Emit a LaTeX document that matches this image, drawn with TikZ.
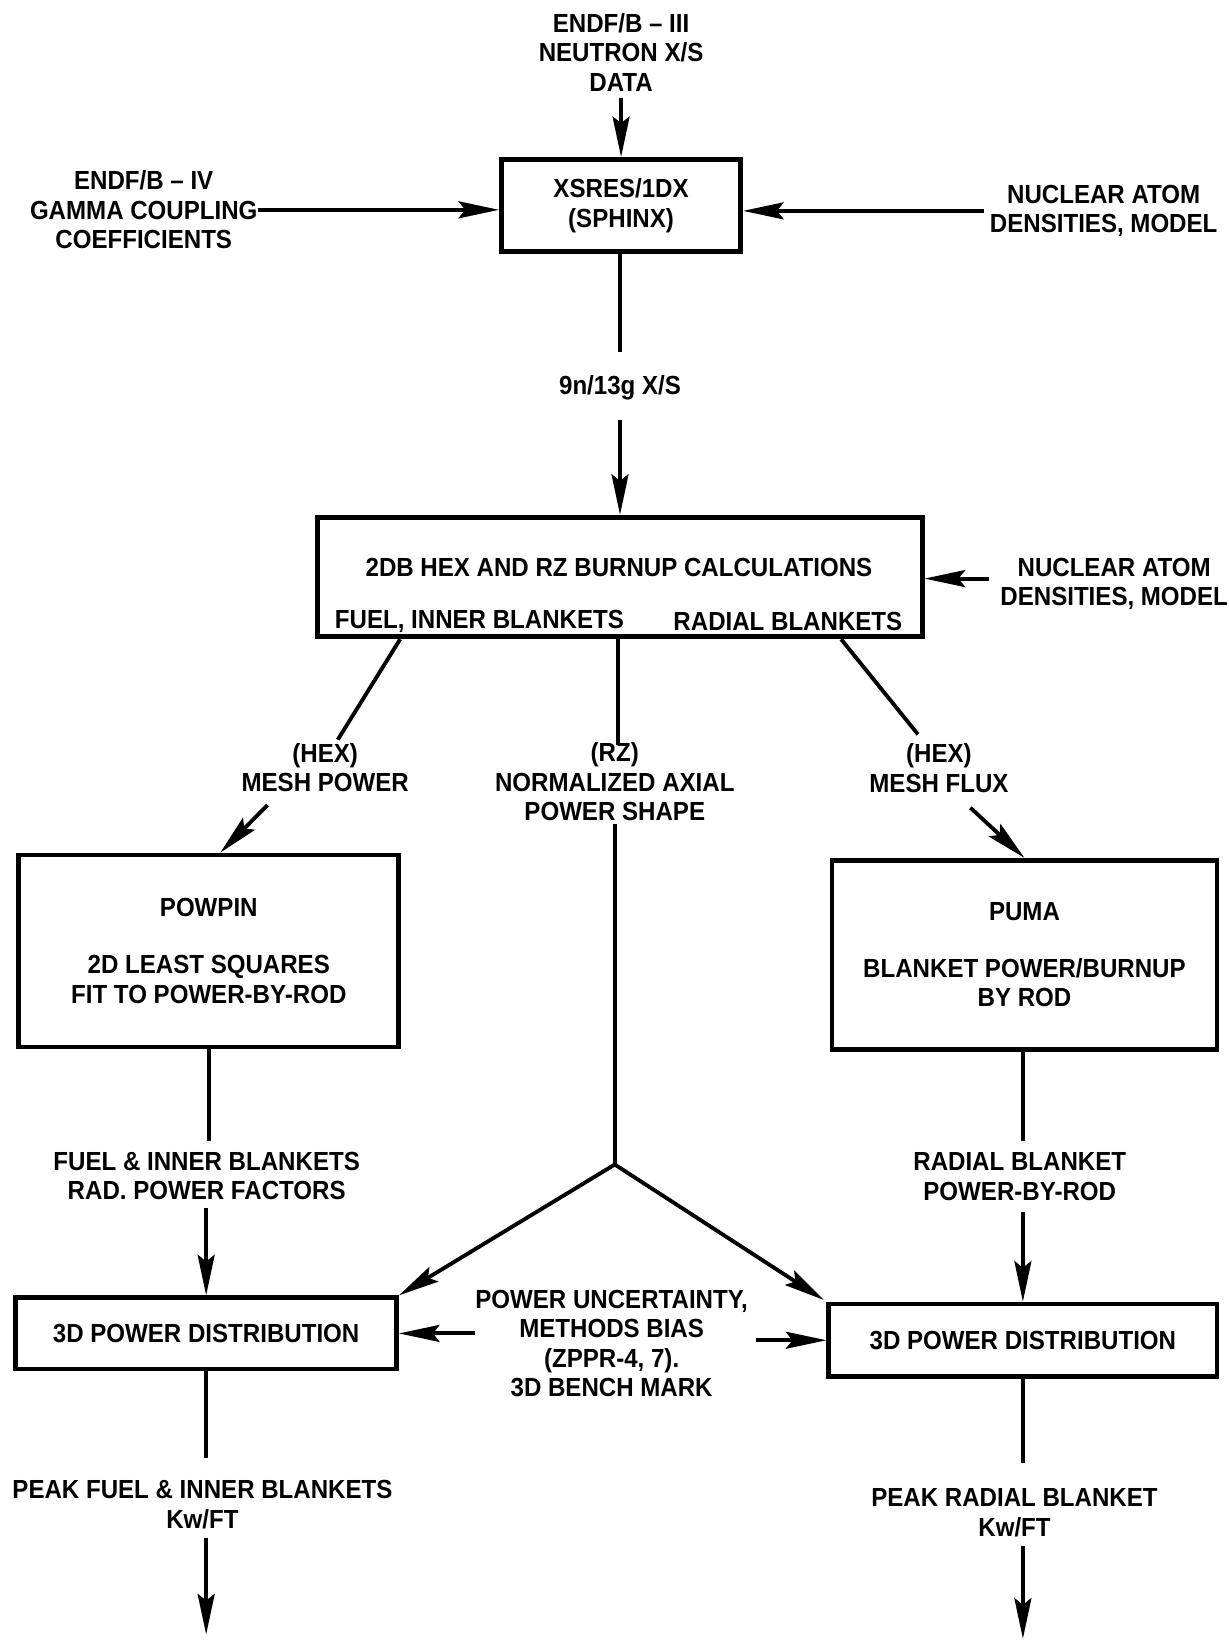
\documentclass[tikz,border=0pt]{standalone}
\usepackage{fontspec}
\setmainfont{Liberation Sans}[FakeStretch=0.92]
\usetikzlibrary{arrows.meta,calc}

\tikzset{
	box/.style={draw, line width=1.3pt, align=center, inner sep=0pt},
	lbl/.style={align=center, inner sep=0pt},
	link/.style={line width=1.05pt},
	flow/.style={link, -{Stealth[length=11pt,width=4.6pt,inset=1.8pt]}},
}

\begin{document}
\begin{tikzpicture}[font=\bfseries\fontsize{7.1}{8}\selectfont]
		\useasboundingbox (0,0) rectangle (11.71,-15.68);
		
		% cross section generation
		\node[lbl] (endfiii) at (5.92,-0.50) {ENDF/B – III\\NEUTRON X/S\\DATA};
		\node[box, minimum width=2.28cm, minimum height=0.88cm] (xsres) at (5.92,-1.96) {XSRES/1DX\\(SPHINX)};
		\node[lbl] (gamma) at (1.37,-2.00) {ENDF/B – IV\\GAMMA COUPLING\\COEFFICIENTS};
		\node[lbl] (nuclxs) at (10.52,-2.01) {NUCLEAR ATOM\\DENSITIES, MODEL};
		\node[lbl] (xs) at (5.91,-3.70) {9n/13g X/S};
		
		\draw[flow] (xsres.north |- endfiii.south) ++(0,-0.06) -- (xsres.north);
		\draw[flow] (gamma.east) -- (gamma.east -| xsres.west);
		\draw[flow, shorten <=0.05cm] (nuclxs.west) -- (nuclxs.west -| xsres.east);
		\draw[link] (xsres.south -| xs) -- ++(0,-0.93);
		
		% burnup
		\node[box, minimum width=5.76cm, minimum height=1.14cm] (burnup) at (5.91,-5.50) {};
		\node[lbl] (burnuptxt) at (5.90,-5.41) {2DB HEX AND RZ BURNUP CALCULATIONS};
		\node[lbl] (fuelib) at (4.57,-5.92) {FUEL, INNER BLANKETS};
		\node[lbl] (radbl) at (7.51,-5.92) {RADIAL BLANKETS};
		\node[lbl] (nuclburn) at (10.62,-5.565) {NUCLEAR ATOM\\DENSITIES, MODEL};
		
		\draw[flow] (xs.south) ++(0,-0.18) -- (xs.south |- burnup.north);
		\draw[flow, shorten <=0.1cm] ([yshift=0.05cm]nuclburn.west) -- ([yshift=0.05cm]nuclburn.west -| burnup.east);
		
		\coordinate (hexpl) at (3.22,-7.05);
		\coordinate (rzl) at (5.89,-7.10);
		\coordinate (hexfl) at (8.75,-7.00);
		\draw[link] ($(burnup.south west)!0.139!(burnup.south east)$) -- (hexpl);
		\draw[link] (burnup.south -| rzl) -- (rzl);
		\draw[link] ($(burnup.south west)!0.863!(burnup.south east)$) -- (hexfl);
		
		\node[lbl] (meshpow) at (3.10,-7.315) {(HEX)\\MESH POWER};
		\node[lbl] (rz) at (5.86,-7.455) {(RZ)\\NORMALIZED AXIAL\\POWER SHAPE};
		\node[lbl] (meshflux) at (8.95,-7.32) {(HEX)\\MESH FLUX};
		
		% power by rod
		\node[box, minimum width=3.62cm, minimum height=1.83cm] (powpin) at (1.99,-9.065) {POWPIN\\[2.6mm]2D LEAST SQUARES\\FIT TO POWER-BY-ROD};
		\node[box, minimum width=3.67cm, minimum height=1.80cm] (puma) at (9.765,-9.10) {PUMA\\[2.6mm]BLANKET POWER/BURNUP\\BY ROD};
		
		\draw[flow] (meshpow.south) ++(-0.55,-0.12) -- ([xshift=0.11cm]powpin.north);
		\draw[flow] (meshflux.south) ++(0.30,-0.14) -- (puma.north);
		
		\node[lbl] (fuelrad) at (1.97,-11.21) {FUEL \& INNER BLANKETS\\RAD. POWER FACTORS};
		\node[lbl] (radrod) at (9.72,-11.215) {RADIAL BLANKET\\POWER-BY-ROD};
		
		% 3d distributions
		\node[box, minimum width=3.63cm, minimum height=0.68cm] (box3l) at (1.965,-12.71) {3D POWER DISTRIBUTION};
		\node[box, minimum width=3.70cm, minimum height=0.69cm] (box3r) at (9.75,-12.775) {3D POWER DISTRIBUTION};
		\node[lbl] (unc) at (5.83,-12.805) {POWER UNCERTAINTY,\\METHODS BIAS\\(ZPPR-4, 7).\\3D BENCH MARK};
		
		\draw[link] (powpin.south) -- ++(0,-0.87);
		\draw[flow] (box3l.north |- fuelrad.south) ++(0,-0.07) -- (box3l.north);
		\draw[link] (puma.south -| box3r.north) -- ++(0,-0.85);
		\draw[flow] (box3r.north |- radrod.south) ++(0,-0.10) -- (box3r.north);
		
		\coordinate (junc) at (5.86,-11.10);
		\draw[link] (rz.south) ++(0,-0.02) -- (junc);
		\draw[flow] (junc) -- (box3l.north east);
		\draw[flow, shorten >=0.03cm] (junc) -- (box3r.north west);
		
		\draw[flow] (unc.west |- box3l.east) -- (box3l.east);
		\draw[flow, shorten <=0.07cm] (unc.east |- box3r.west) -- (box3r.west);
		
		% peak values
		\node[lbl] (peakl) at (1.93,-14.34) {PEAK FUEL \& INNER BLANKETS\\Kw/FT};
		\node[lbl] (peakr) at (9.67,-14.42) {PEAK RADIAL BLANKET\\Kw/FT};
		\coordinate (outl) at (1.965,-15.58);
		\coordinate (outr) at (9.75,-15.62);
		
		\draw[link] (box3l.south) -- ++(0,-0.82);
		\draw[flow] (box3l.south |- peakl.south) ++(0,-0.08) -- (outl);
		\draw[link] (box3r.south) -- ++(0,-0.80);
		\draw[flow] (box3r.south |- peakr.south) ++(0,-0.08) -- (outr);
	\end{tikzpicture}
\end{document}
